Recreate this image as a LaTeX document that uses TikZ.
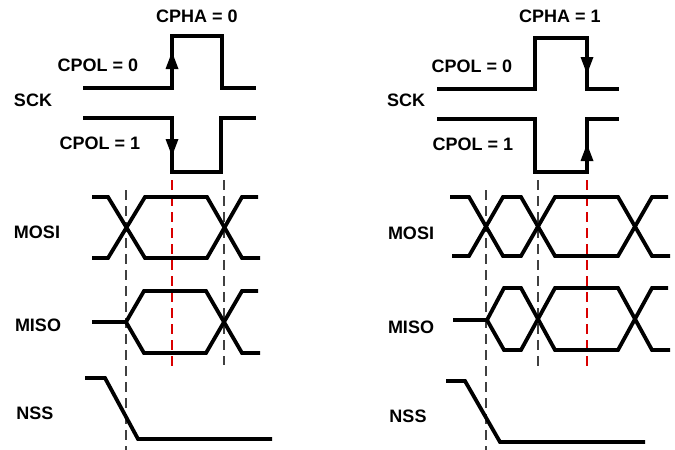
\documentclass[tikz,border=0pt]{standalone}
\usepackage{fontspec}
\setsansfont{Liberation Sans}
\usepackage{tikz}

\begin{document}
\begin{tikzpicture}[x=0.5pt,y=-0.5pt,
  sig/.style={line width=1.9pt},
  guide/.style={line width=0.9pt,dash pattern=on 5pt off 3pt,black!75},
  redguide/.style={guide,red!85!black},
  lbl/.style={font=\sffamily\bfseries\fontsize{9}{11}\selectfont,inner sep=0pt}]
\useasboundingbox (0,0) rectangle (675,450);
% left half: CPHA = 0
\node[lbl] (cphaA) at (197,16) {CPHA = 0};
\node[lbl] (cpolA0) at (98,65) {CPOL = 0};
\node[lbl] (sckA) at (33,100) {SCK};
\node[lbl] (cpolA1) at (100,143) {CPOL = 1};
\node[lbl] (mosiA) at (37,232) {MOSI};
\node[lbl] (misoA) at (38,325) {MISO};
\node[lbl] (nssA) at (35,413) {NSS};
\draw[guide] (126,190) -- (126,450);
\draw[guide] (224,180) -- (224,365);
\draw[redguide] (172,180) -- (172,367);
\draw[sig] (83,88) -- (172,88) -- (172,36) -- (222,36) -- (222,88) -- (256,88);
\fill (172,52) -- (178.5,69) -- (165.5,69) -- cycle;
\draw[sig] (83,118) -- (172,118) -- (172,172) -- (221,172) -- (221,118) -- (256,118);
\fill (172,156) -- (178.5,139) -- (165.5,139) -- cycle;
\draw[sig] (92,197) -- (108,197) -- (145,258) -- (207,258) -- (242,197) -- (258,197);
\draw[sig] (92,258) -- (108,258) -- (145,197) -- (207,197) -- (242,258) -- (260,258);
\draw[sig] (92,322) -- (126,322) -- (144,291) -- (206,291) -- (242,353) -- (260,353);
\draw[sig] (126,322) -- (144,353) -- (206,353) -- (242,291) -- (258,291);
\draw[sig] (85,378) -- (105,378) -- (138,439) -- (272,439);
% right half: CPHA = 1
\node[lbl] (cphaB) at (560,16) {CPHA = 1};
\node[lbl] (cpolB0) at (472,66) {CPOL = 0};
\node[lbl] (sckB) at (406,100) {SCK};
\node[lbl] (cpolB1) at (473,144) {CPOL = 1};
\node[lbl] (mosiB) at (411,233) {MOSI};
\node[lbl] (misoB) at (411,327) {MISO};
\node[lbl] (nssB) at (408,416) {NSS};
\draw[guide] (486,190) -- (486,450);
\draw[guide] (538,180) -- (538,370);
\draw[redguide] (587,180) -- (587,368);
\draw[sig] (437,89) -- (535,89) -- (535,38) -- (587,38) -- (587,89) -- (619,89);
\fill (587,74) -- (593.5,57) -- (580.5,57) -- cycle;
\draw[sig] (437,119) -- (535,119) -- (535,172) -- (587,172) -- (587,119) -- (619,119);
\fill (587,144) -- (593.5,161) -- (580.5,161) -- cycle;
\draw[sig] (450,197) -- (469,197) -- (503,256) -- (521,256) -- (555,197) -- (618,197) -- (652,256) -- (670,256);
\draw[sig] (452,256) -- (469,256) -- (503,197) -- (521,197) -- (555,256) -- (618,256) -- (652,197) -- (668,197);
\draw[sig] (453,320) -- (487,320) -- (504,288) -- (521,288) -- (555,350) -- (618,350) -- (652,288) -- (668,288);
\draw[sig] (487,320) -- (504,350) -- (521,350) -- (555,288) -- (618,288) -- (652,350) -- (670,350);
\draw[sig] (446,381) -- (465,381) -- (500,442) -- (645,442);
\end{tikzpicture}
\end{document}
